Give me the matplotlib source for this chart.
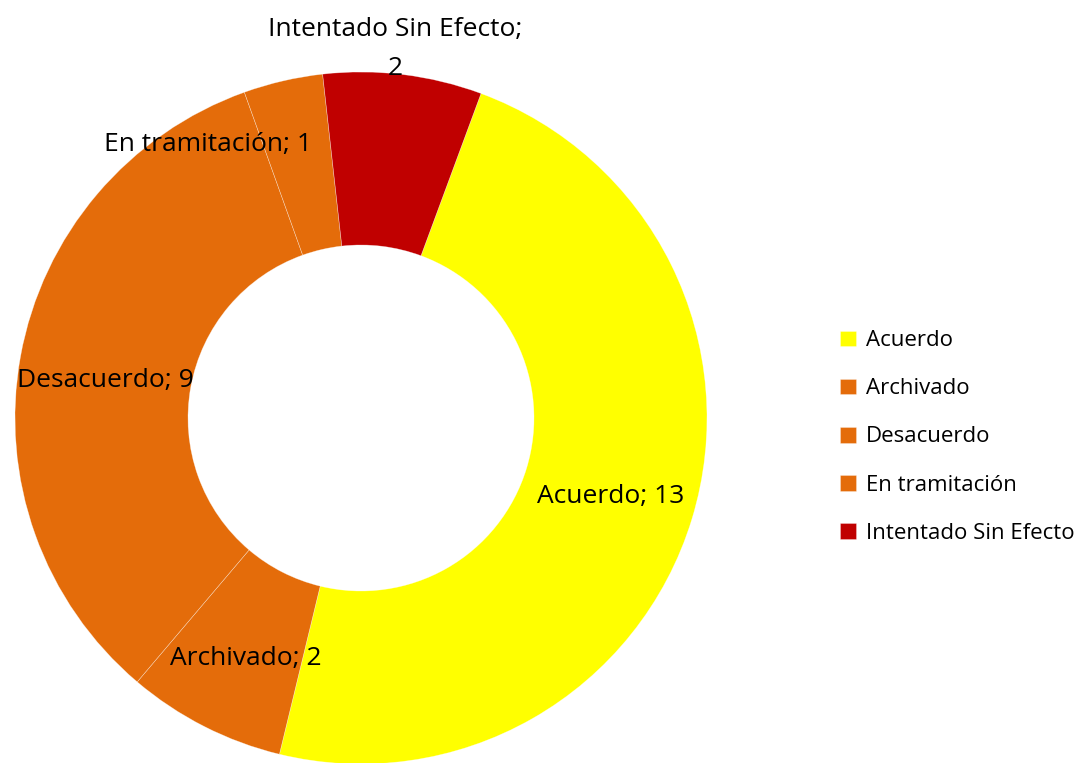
import numpy as np
import matplotlib
matplotlib.use("Agg")
import matplotlib.pyplot as plt

categorias = ["Acuerdo", "Archivado", "Desacuerdo", "En tramitación", "Intentado Sin Efecto"]
valores = [13, 2, 9, 1, 2]
colores = ["#FFFF00", "#E46C0A", "#E46C0A", "#E46C0A", "#C00000"]
etiquetas = ["Acuerdo; 13", "Archivado; 2", "Desacuerdo; 9", "En tramitación; 1", "Intentado Sin Efecto;\n2"]

plt.rcParams['font.family'] = ['Open Sans', 'DejaVu Sans']

W, H = 1090, 763
fig = plt.figure(figsize=(W / 100, H / 100), dpi=100)
ax = fig.add_axes([0, 0, 1, 1])

# centro y radio en pixeles
cx, cy, r = 361, H - 418, 346
wedges, _ = ax.pie(valores, colors=colores, startangle=90 - 20.3, counterclock=False,
                   center=(cx, cy), radius=r, frame=True,
                   wedgeprops=dict(width=r * 0.5, edgecolor=(1, 1, 1, 0.5), linewidth=0.4))
ax.set_xlim(0, W)
ax.set_ylim(0, H)
ax.set_aspect('equal')
ax.axis('off')

# posiciones de etiquetas (pixeles)
pos_etiquetas = [(611, 497), (246, 658), (105, 380), (208, 145), (395, 49)]
for txt, (x, y) in zip(etiquetas, pos_etiquetas):
    ax.text(x, H - y, txt, ha='center', va='center', fontsize=19, color='black',
            linespacing=1.7)

# leyenda
leg = ax.legend(wedges, categorias, loc='center left', bbox_to_anchor=(820 / W, 1 - 437 / H),
                bbox_transform=fig.transFigure, frameon=False, fontsize=16,
                handlelength=0.7, handleheight=0.7, handletextpad=0.45, labelspacing=1.22)

plt.savefig("out.png", dpi=100)
